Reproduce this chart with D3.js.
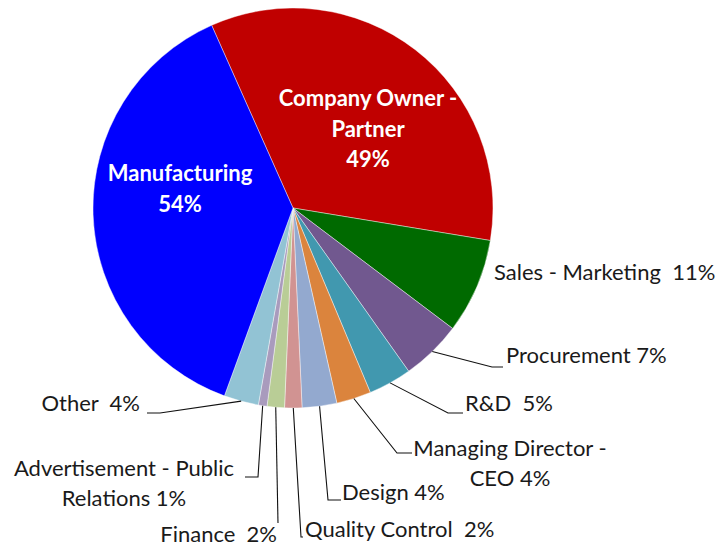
<!DOCTYPE html>
<html><head><meta charset="utf-8">
<script src="https://cdn.jsdelivr.net/npm/d3@7"></script>
<style>body{margin:0;background:#fff} svg{display:block} text{white-space:pre}</style>
</head><body>
<svg id="chart" width="724" height="551"></svg>
<script>
// ---- data ----
const categories = ["Company Owner - Partner","Sales - Marketing","Procurement","R&D","Managing Director - CEO","Design","Quality Control","Finance","Advertisement - Public Relations","Other","Manufacturing"];
const values = [49,11,7,5,4,4,2,2,1,4,54];
const valueLabels = ["49%","11%","7%","5%","4%","4%","2%","2%","1%","4%","54%"];
const labelLines = [
  ["Company Owner -","Partner","49%"],
  ["Sales - Marketing  11%"],
  ["Procurement 7%"],
  ["R&D  5%"],
  ["Managing Director -","CEO 4%"],
  ["Design 4%"],
  ["Quality Control  2%"],
  ["Finance  2%"],
  ["Advertisement - Public","Relations 1%"],
  ["Other  4%"],
  ["Manufacturing","54%"]
];
const colors = ["#C00000","#006A00","#71588F","#4198AF","#DB843D","#93A9CF","#D19392","#B9CD96","#A99BBD","#92C3D4","#0000FF"];

// ---- layout (positions only) ----
const W = 724, H = 551;
const cx = 293, cy = 208, R = 200;
const startDeg = -24;
const labelLayout = [
  {x:368, y:[105.5,137,167], anchor:"middle", inside:true},
  {x:494, y:[279.5], anchor:"start"},
  {x:506, y:[362.5], anchor:"start", leader:[[492,367],[503,367]]},
  {x:465, y:[410.5], anchor:"start", leader:[[448,413],[463,413]]},
  {x:510, y:[455.5,485.5], anchor:"middle", leader:[[397,453],[412,453]]},
  {x:342, y:[499.5], anchor:"start", leader:[[328,500],[341,500]]},
  {x:305, y:[537], anchor:"start", leader:[[301,537],[303,537]]},
  {x:277, y:[542], anchor:"end", leader:[[278,523]]},
  {x:124, y:[475.5,505.5], anchor:"middle", leader:[[258,477],[245,477]]},
  {x:140, y:[410.5], anchor:"end", leader:[[160,413],[147,413]]},
  {x:180, y:[180.5,212], anchor:"middle", inside:true}
];

const svg = d3.select("#chart");
const g = svg.append("g").attr("transform", `translate(${cx},${cy})`);

const pie = d3.pie().sort(null).value(d => d.v)
  .startAngle(startDeg*Math.PI/180).endAngle((startDeg+360)*Math.PI/180);
const data = categories.map((c,i)=>({c, v:values[i], i}));
const arcs = pie(data);
const arc = d3.arc().innerRadius(0).outerRadius(R);
const edge = d3.arc().innerRadius(R).outerRadius(R);

g.selectAll("path.slice").data(arcs).join("path")
  .attr("class","slice")
  .attr("d", arc)
  .attr("fill", d => colors[d.data.i])
  .attr("stroke", "#fff").attr("stroke-width", 0.6).attr("stroke-opacity", 0.7);

// leader lines
const line = d3.line();
arcs.forEach(a => {
  const L = labelLayout[a.data.i];
  if (!L.leader) return;
  const mid = (a.startAngle + a.endAngle)/2;
  const p0 = [cx + R*Math.sin(mid), cy - R*Math.cos(mid)];
  svg.append("path").attr("d", line([p0, ...L.leader]))
    .attr("fill","none").attr("stroke","#111").attr("stroke-width",1.1);
});

// labels
arcs.forEach(a => {
  const i = a.data.i, L = labelLayout[i];
  const t = svg.append("text")
    .attr("text-anchor", L.anchor)
    .attr("font-family", "Lato, 'Open Sans', sans-serif")
    .attr("font-size", 22)
    .attr("font-weight", L.inside ? "bold" : "normal")
    .attr("fill", L.inside ? "#fff" : "#1a1a1a");
  labelLines[i].forEach((s,k) => {
    t.append("tspan").attr("x", L.x).attr("y", L.y[k]).text(s);
  });
});
</script>
</body></html>
